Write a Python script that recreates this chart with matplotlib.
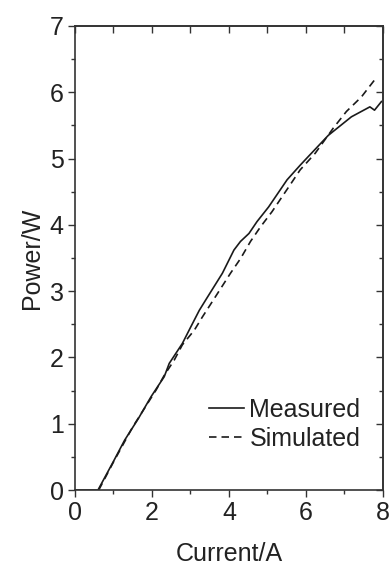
import matplotlib.pyplot as plt
import numpy as np
from matplotlib.ticker import MultipleLocator

plt.rcParams['font.family'] = ['Liberation Sans', 'DejaVu Sans']

# measured curve
i_meas = [0.0, 0.6, 1.0, 1.29, 1.65, 1.98, 2.32, 2.45, 2.79, 3.0, 3.23, 3.40, 3.83, 4.13,
          4.30, 4.52, 4.73, 5.03, 5.51, 5.85, 6.06, 6.58, 7.18, 7.66, 7.78, 7.96]
p_meas = [0.0, 0.0, 0.43, 0.75, 1.08, 1.41, 1.71, 1.91, 2.21, 2.45, 2.71, 2.87, 3.27, 3.62,
          3.75, 3.87, 4.05, 4.27, 4.68, 4.90, 5.03, 5.35, 5.63, 5.78, 5.73, 5.86]

# simulated curve
i_sim = [0.62, 1.0, 1.5, 2.11, 2.32, 2.58, 2.79, 3.10, 3.31, 3.61, 4.04, 4.30, 4.56, 4.82,
         5.12, 5.55, 5.85, 6.24, 6.71, 7.05, 7.44, 7.80]
p_sim = [0.0, 0.42, 0.95, 1.51, 1.73, 1.96, 2.19, 2.41, 2.61, 2.88, 3.27, 3.49, 3.75, 3.97,
         4.20, 4.57, 4.83, 5.08, 5.46, 5.71, 5.93, 6.20]

fig = plt.figure(figsize=(3.9, 5.65), dpi=100)
ax = fig.add_axes([0.192, 0.1327, 0.79, 0.8213])

ax.plot(i_meas, p_meas, color='#1a1a1a', lw=1.2, label='Measured')
ax.plot(i_sim, p_sim, color='#1a1a1a', lw=1.2, ls=(0, (4.5, 3)), label='Simulated')

ax.set_xlim(0, 8)
ax.set_ylim(0, 7)
ax.xaxis.set_major_locator(MultipleLocator(2))
ax.xaxis.set_minor_locator(MultipleLocator(1))
ax.yaxis.set_major_locator(MultipleLocator(1))
ax.yaxis.set_minor_locator(MultipleLocator(0.5))
ax.tick_params(which='both', direction='out', labelsize=18, width=1,
               color='#333333', labelcolor='#222222')
ax.tick_params(which='major', length=5, pad=3)
ax.tick_params(which='minor', length=3)

# inward ticks on the top and right sides
sec_x = ax.secondary_xaxis('top')
sec_x.xaxis.set_major_locator(MultipleLocator(1))
sec_x.tick_params(direction='in', length=5, width=1, color='#333333', labeltop=False)
sec_y = ax.secondary_yaxis('right')
sec_y.yaxis.set_major_locator(MultipleLocator(1))
sec_y.yaxis.set_minor_locator(MultipleLocator(0.5))
sec_y.tick_params(which='major', direction='in', length=5, width=1, color='#333333', labelright=False)
sec_y.tick_params(which='minor', direction='in', length=3, width=1, color='#333333')

for s in list(ax.spines.values()) + [sec_x.spines['top'], sec_y.spines['right']]:
    s.set_linewidth(1.2)
    s.set_color('#333333')

ax.set_xlabel('Current/A', fontsize=18, color='#222222', labelpad=12)
ax.set_ylabel('Power/W', fontsize=18, color='#222222', labelpad=4.5)

ax.legend(loc='center left', bbox_to_anchor=(0.396, 0.142), frameon=False, fontsize=18,
          handlelength=1.4, handletextpad=0.2, labelspacing=0.2, borderpad=0,
          labelcolor='#222222')

fig.savefig('out.png', dpi=100)
